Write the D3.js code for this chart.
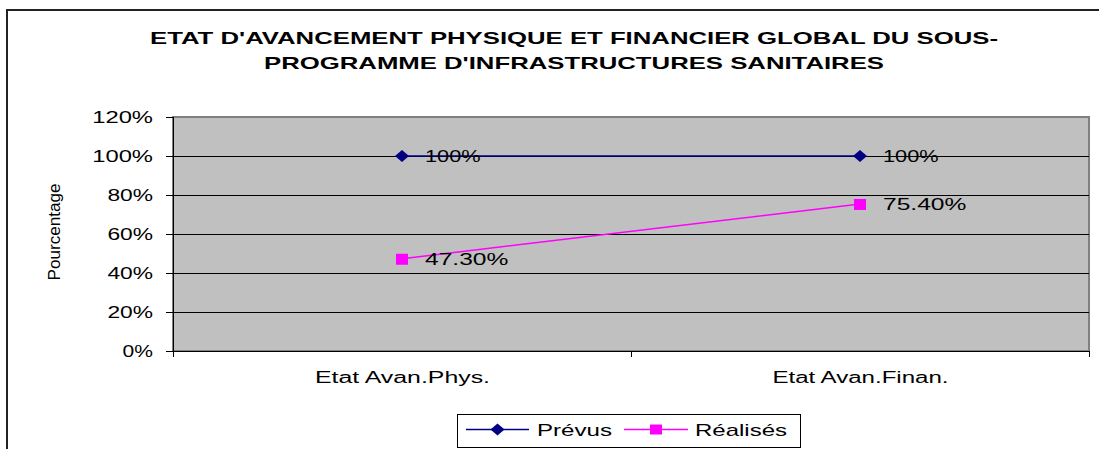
<!DOCTYPE html>
<html><head><meta charset="utf-8">
<script src="https://cdn.jsdelivr.net/npm/d3@7"></script>
<style>body{margin:0;background:#fff}svg{display:block;font-family:"Liberation Sans",Arial,sans-serif}</style>
</head><body>
<script>
const categories = ["Etat Avan.Phys.", "Etat Avan.Finan."];
const prevus = [1.00, 1.00];
const realises = [0.473, 0.754];
const prevusLabels = ["100%", "100%"];
const realisesLabels = ["47.30%", "75.40%"];
const yTicks = [0, 0.2, 0.4, 0.6, 0.8, 1.0, 1.2];
const titleLines = ["ETAT D'AVANCEMENT PHYSIQUE ET FINANCIER GLOBAL DU SOUS-", "PROGRAMME D'INFRASTRUCTURES SANITAIRES"];
const seriesNames = ["Prévus", "Réalisés"];

const W = 1099, H = 449;
const svg = d3.select("body").append("svg").attr("width", W).attr("height", H);

// outer chart border
svg.append("rect").attr("x", 7).attr("y", 10).attr("width", 1200).attr("height", 600)
  .attr("fill", "#fff").attr("stroke", "#222").attr("stroke-width", 2);

const m = {l: 173, r: 1089, t: 117, b: 351};
const x = d3.scalePoint().domain(categories).range([m.l, m.r]).padding(0.5);
const xb = d3.scaleBand().domain(categories).range([m.l, m.r]);
const y = d3.scaleLinear().domain([0, 1.2]).range([m.b, m.t]);

// Excel-like horizontally stretched text
function fit(sel, w) { sel.attr("textLength", w).attr("lengthAdjust", "spacingAndGlyphs"); return sel; }

// title
const tW = [848, 620];
titleLines.forEach((t, i) => {
  fit(svg.append("text").attr("x", 574).attr("y", 44 + i * 25).attr("text-anchor", "middle")
    .attr("font-weight", "bold").attr("font-size", 17).text(t), tW[i]);
});

// plot background
svg.append("rect").attr("x", m.l).attr("y", m.t).attr("width", m.r - m.l).attr("height", m.b - m.t)
  .attr("fill", "#c0c0c0").attr("stroke", "#808080").attr("stroke-width", 2);

// gridlines
svg.append("g").selectAll("line").data(yTicks.filter(d => d > 0 && d < 1.2)).join("line")
  .attr("x1", m.l).attr("x2", m.r).attr("y1", d => Math.round(y(d)) + 0.5).attr("y2", d => Math.round(y(d)) + 0.5)
  .attr("stroke", "#000").attr("stroke-width", 1);

// y axis
const fmt = d3.format(".0%");
const yAxis = svg.append("g").attr("transform", `translate(${m.l},0)`)
  .call(d3.axisLeft(y).tickValues(yTicks).tickSize(7).tickPadding(13).tickFormat(fmt));
yAxis.select(".domain").attr("stroke", "#000");
yAxis.selectAll(".tick line").attr("stroke", "#000");
yAxis.selectAll(".tick text").attr("font-size", 16).attr("fill", "#000").attr("font-family", "Liberation Sans, Arial")
  .each(function(d){ fit(d3.select(this), fmt(d).length * 15.2); });

// x axis
const xAxis = svg.append("g").attr("transform", `translate(0,${m.b})`)
  .call(d3.axisBottom(x).tickSize(0).tickPadding(0));
xAxis.select(".domain").remove();
svg.append("line").attr("x1", m.l).attr("x2", m.r).attr("y1", m.b + 0.5).attr("y2", m.b + 0.5).attr("stroke", "#000");
svg.append("line").attr("x1", m.l + 0.5).attr("x2", m.l + 0.5).attr("y1", m.t).attr("y2", m.b + 5).attr("stroke", "#000");
const bounds = [m.l, ...categories.map(c => xb(c) + xb.bandwidth())];
svg.append("g").selectAll("line").data(bounds).join("line")
  .attr("x1", d => d + 0.5).attr("x2", d => d + 0.5).attr("y1", m.b).attr("y2", m.b + 6).attr("stroke", "#000");
const catW = [175, 176];
xAxis.selectAll(".tick text").attr("font-size", 16).attr("fill", "#000").attr("dy", 0).attr("y", 32)
  .attr("font-family", "Liberation Sans, Arial")
  .each(function(d, i){ fit(d3.select(this), catW[i]); });

// y title
fit(svg.append("text").attr("transform", "translate(60,232) rotate(-90)").attr("text-anchor", "middle")
  .attr("font-size", 16).text("Pourcentage"), 97);

// lines
const line = d3.line().x((d, i) => x(categories[i])).y(d => y(d));
svg.append("path").datum(prevus).attr("d", line).attr("fill", "none").attr("stroke", "#000080").attr("stroke-width", 1.5);
svg.append("path").datum(realises).attr("d", line).attr("fill", "none").attr("stroke", "#ff00ff").attr("stroke-width", 1.5);

const diamond = (cx, cy) => `M${cx - 7},${cy} L${cx},${cy - 6} L${cx + 7},${cy} L${cx},${cy + 6} Z`;
svg.append("g").selectAll("path").data(prevus).join("path")
  .attr("d", (d, i) => diamond(x(categories[i]), y(d))).attr("fill", "#000080");
svg.append("g").selectAll("rect").data(realises).join("rect")
  .attr("x", (d, i) => x(categories[i]) - 6).attr("y", d => y(d) - 5).attr("width", 12).attr("height", 11)
  .attr("fill", "#ff00ff");

// data labels
function labels(vals, labs) {
  svg.append("g").selectAll("text").data(vals).join("text")
    .attr("x", (d, i) => x(categories[i]) + 23).attr("y", d => y(d) + 6)
    .attr("font-size", 17).attr("fill", "#000").text((d, i) => labs[i])
    .each(function(d, i){ fit(d3.select(this), labs[i].length * 13.9); });
}
labels(prevus, prevusLabels);
labels(realises, realisesLabels);

// legend
const lg = svg.append("g");
lg.append("rect").attr("x", 457.5).attr("y", 414.5).attr("width", 343).attr("height", 33)
  .attr("fill", "#fff").attr("stroke", "#000");
const legItems = [
  {name: seriesNames[0], x0: 466, x1: 529, tx: 537, tw: 75, color: "#000080", shape: "d"},
  {name: seriesNames[1], x0: 624, x1: 688, tx: 695, tw: 92, color: "#ff00ff", shape: "s"}
];
legItems.forEach(it => {
  const cx = (it.x0 + it.x1) / 2, cy = 429.5;
  lg.append("line").attr("x1", it.x0).attr("x2", it.x1).attr("y1", cy).attr("y2", cy).attr("stroke", it.color).attr("stroke-width", 1.5);
  if (it.shape === "d") lg.append("path").attr("d", diamond(cx, cy)).attr("fill", it.color);
  else lg.append("rect").attr("x", cx - 6).attr("y", cy - 5).attr("width", 12).attr("height", 10).attr("fill", it.color);
  fit(lg.append("text").attr("x", it.tx).attr("y", cy + 6).attr("font-size", 17).text(it.name), it.tw);
});
</script>
</body></html>
